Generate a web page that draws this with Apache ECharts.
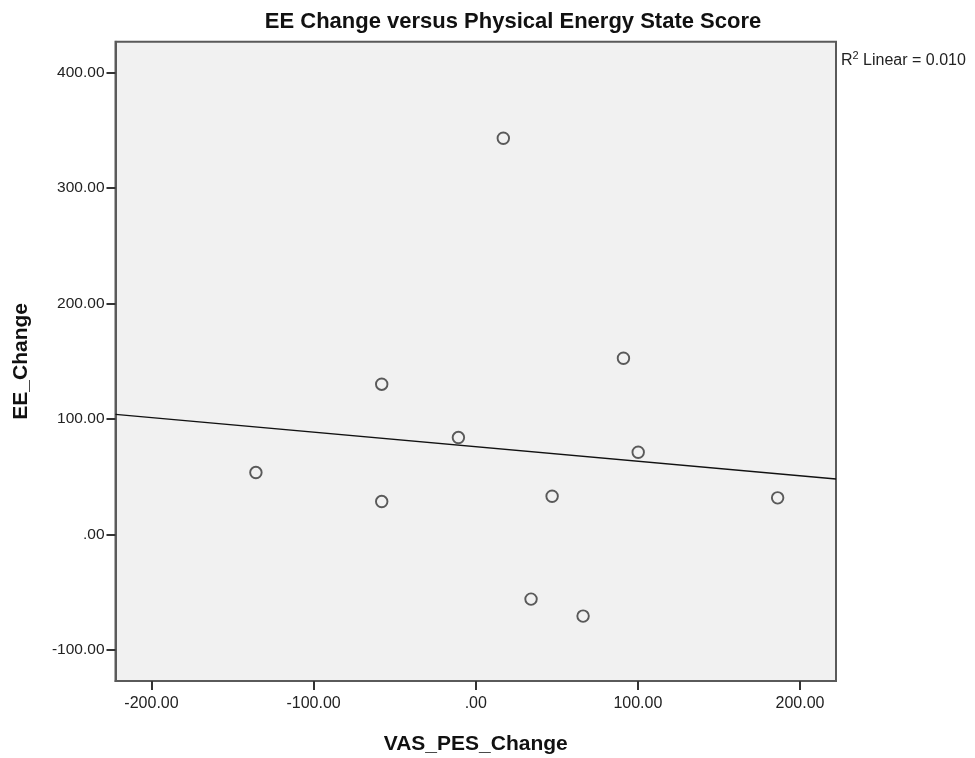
<!DOCTYPE html>
<html>
<head>
<meta charset="utf-8">
<script src="https://cdn.jsdelivr.net/npm/echarts@6/dist/echarts.min.js"></script>
<style>
html,body{margin:0;padding:0;background:#fff;}
#chart{width:975px;height:758px;}
</style>
</head>
<body>
<div id="chart"></div>
<script>
// Data
const vasPesChange = [-135.6, -58.0, -58.0, -10.7, 17.0, 91.1, 100.2, 47.1, 34.1, 66.2, 186.2];
const eeChange     = [53.7, 130.2, 28.6, 84.0, 343.2, 152.7, 71.3, 33.2, -55.9, -70.6, 31.8];
const xTicks = [-200, -100, 0, 100, 200];
const yTicks = [-100, 0, 100, 200, 300, 400];
const xRange = [-222.2, 222.2];
const yRange = [-126.8, 426.8];

const points = vasPesChange.map((x, i) => [x, eeChange[i]]);

// Linear fit (OLS)
const n = points.length;
const mx = vasPesChange.reduce((a, b) => a + b, 0) / n;
const my = eeChange.reduce((a, b) => a + b, 0) / n;
let sxy = 0, sxx = 0, syy = 0;
for (let i = 0; i < n; i++) {
  const dx = vasPesChange[i] - mx, dy = eeChange[i] - my;
  sxy += dx * dy; sxx += dx * dx; syy += dy * dy;
}
const slope = sxy / sxx;
const intercept = my - slope * mx;
const r2 = (sxy * sxy) / (sxx * syy);
const fitLine = xRange.map(x => [x, intercept + slope * x]);

const fmt = v => (v === 0 ? '.00' : v.toFixed(2));
const axisColor = '#5a5a5a';
const FF = 'Liberation Sans, Arial, sans-serif';

const chart = echarts.init(document.getElementById('chart'), null, {renderer: 'canvas'});
chart.setOption({
  animation: false,
  backgroundColor: '#ffffff',
  title: [
    {
      text: 'EE Change versus Physical Energy State Score',
      left: 508, top: 6, textAlign: 'center',
      textStyle: {fontFamily: FF, fontSize: 22, fontWeight: 'bold', color: '#111'}
    },
    {
      text: '{a|R}{s|2}{a| Linear = ' + r2.toFixed(3) + '}',
      left: 836, top: 45,
      textStyle: {
        fontWeight: 'normal',
        rich: {
          a: {fontFamily: FF, fontSize: 16, fontWeight: 'normal', color: '#222', verticalAlign: 'bottom', lineHeight: 19},
          s: {fontFamily: FF, fontSize: 11, fontWeight: 'normal', color: '#222', verticalAlign: 'top', lineHeight: 19}
        }
      }
    }
  ],
  grid: {
    left: 115.5, right: 139, top: 41.7, bottom: 77,
    containLabel: false, outerBoundsMode: 'none',
    show: true, backgroundColor: '#f1f1f1', borderColor: axisColor, borderWidth: 2
  },
  xAxis: {
    type: 'value', min: xRange[0], max: xRange[1],
    name: 'VAS_PES_Change', nameLocation: 'middle', nameGap: 53,
    nameTextStyle: {fontFamily: FF, fontSize: 21, fontWeight: 'bold', color: '#111'},
    axisLine: {show: true, onZero: false, lineStyle: {color: axisColor, width: 2}},
    axisTick: {show: true, length: 9, customValues: xTicks, lineStyle: {color: '#333', width: 2}},
    axisLabel: {customValues: xTicks, formatter: fmt, margin: 15,
      fontFamily: FF, fontSize: 16, color: '#222'},
    splitLine: {show: false}
  },
  yAxis: {
    type: 'value', min: yRange[0], max: yRange[1],
    name: 'EE_Change', nameLocation: 'middle', nameGap: 84, nameRotate: 90,
    nameTextStyle: {fontFamily: FF, fontSize: 21, fontWeight: 'bold', color: '#111'},
    axisLine: {show: true, onZero: false, lineStyle: {color: axisColor, width: 2}},
    axisTick: {show: true, length: 9, customValues: yTicks, lineStyle: {color: '#333', width: 2}},
    axisLabel: {customValues: yTicks, formatter: fmt, margin: 11,
      fontFamily: FF, fontSize: 15.5, color: '#222'},
    splitLine: {show: false}
  },
  series: [
    {
      type: 'line', data: fitLine, showSymbol: false, symbol: 'none',
      lineStyle: {color: '#111', width: 1.3}, silent: true, z: 2
    },
    {
      type: 'scatter', data: points, symbol: 'circle', symbolSize: 11.5,
      itemStyle: {color: '#f1f1f1', borderColor: '#333', borderWidth: 1.9}, z: 3
    }
  ]
});
</script>
</body>
</html>
